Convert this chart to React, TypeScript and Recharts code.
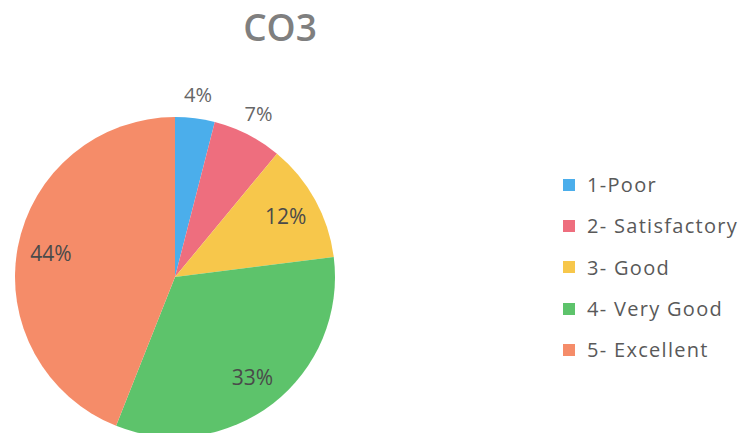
import React from "react";
import { PieChart, Pie, Cell, Legend } from "recharts";

const categories = ["1-Poor", "2- Satisfactory", "3- Good", "4- Very Good", "5- Excellent"];
const values = [4, 7, 12, 33, 44];
const colors = ["#4BAEEB", "#EE6E7E", "#F7C74B", "#5DC36B", "#F58C69"];
const title = "CO3";

const data = categories.map((name, i) => ({ name, value: values[i] }));
const FONT = "'Open Sans', 'Noto Sans', sans-serif";
const RAD = Math.PI / 180;

const renderLabel = (props: any) => {
  const { cx, cy, midAngle, outerRadius, index, percent } = props;
  const outside = index < 2;
  const r = outside ? outerRadius + 24 : outerRadius * 0.79;
  const x = cx + r * Math.cos(-midAngle * RAD);
  const y = cy + r * Math.sin(-midAngle * RAD);
  return (
    <text
      x={x}
      y={y}
      textAnchor="middle"
      dominantBaseline="central"
      fill={outside ? "#666666" : "#4a4a4a"}
      fontSize={outside ? 20 : 21}
      fontFamily={FONT}
    >
      {`${Math.round(percent * 100)}%`}
    </text>
  );
};

const renderLegend = () => (
  <div style={{ fontFamily: FONT, fontSize: 20, letterSpacing: 1.3, color: "#595959" }}>
    {data.map((d, i) => (
      <div key={d.name} style={{ display: "flex", alignItems: "center", height: 41.3 }}>
        <span style={{ display: "inline-block", width: 12, height: 12, background: colors[i], marginRight: 12 }} />
        <span>{d.name}</span>
      </div>
    ))}
  </div>
);

export default function App() {
  return (
    <div style={{ position: "absolute", left: 0, top: 0, width: 749, height: 433, background: "#fff", overflow: "hidden" }}>
      <div
        style={{
          position: "absolute",
          left: 0,
          width: 560,
          top: 1,
          textAlign: "center",
          fontFamily: FONT,
          fontSize: 37,
          fontWeight: 600,
          color: "#7f7f7f",
        }}
      >
        {title}
      </div>
      <PieChart width={749} height={433} margin={{ top: 0, right: 0, bottom: 0, left: 0 }}>
        <Pie
          data={data}
          dataKey="value"
          nameKey="name"
          cx={175}
          cy={277}
          outerRadius={160}
          startAngle={90}
          endAngle={-270}
          stroke="none"
          label={renderLabel}
          labelLine={false}
          isAnimationActive={false}
        >
          {data.map((d, i) => (
            <Cell key={d.name} fill={colors[i]} />
          ))}
        </Pie>
        <Legend
          layout="vertical"
          align="right"
          verticalAlign="top"
          content={renderLegend}
          wrapperStyle={{ left: 563, top: 164, width: 186 }}
        />
      </PieChart>
    </div>
  );
}
